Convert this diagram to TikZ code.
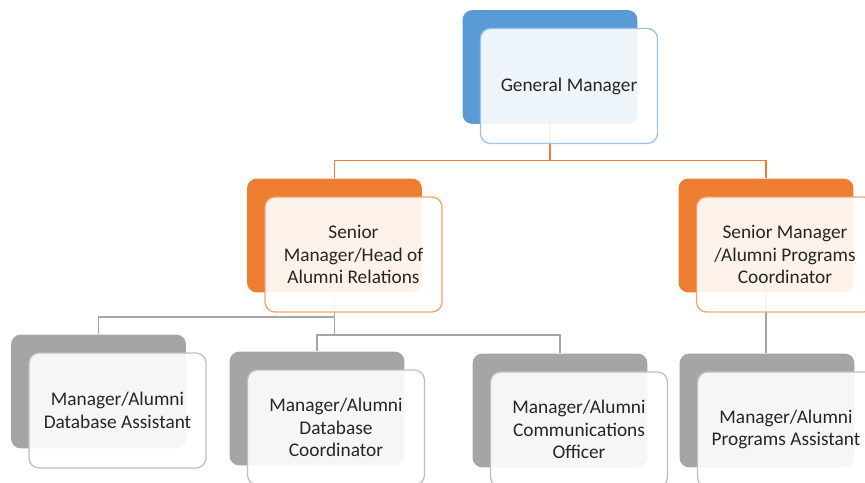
\documentclass[tikz,border=0pt]{standalone}
\usepackage{fontspec}
\setmainfont{Carlito}
\usepackage{tikz}
\usepackage{xcolor}

\definecolor{gmblue}{HTML}{5B9BD5}
\definecolor{gmedge}{HTML}{9DC3E6}
\definecolor{smorange}{HTML}{ED7D31}
\definecolor{smedge}{HTML}{F4A36F}
\definecolor{mgray}{HTML}{A5A5A5}
\definecolor{medge}{HTML}{BFBFBF}
\definecolor{boxtext}{HTML}{262626}

\begin{document}
\begin{tikzpicture}[x=0.02cm,y=-0.02cm,
	backbox/.style={rounded corners=0.2cm, minimum width=3.5cm, minimum height=2.28cm, inner sep=0pt},
	frontbox/.style={draw, line width=0.75pt, rounded corners=0.2cm, fill=white, fill opacity=0.9, text opacity=1,
		minimum width=3.54cm, minimum height=2.3cm, inner sep=0pt, xshift=0.38cm, yshift=-0.38cm,
		align=center, text=boxtext, font=\fontsize{11}{12.8}\selectfont},
	orangeline/.style={draw=smorange, line width=0.85pt},
	grayline/.style={draw=mgray, line width=0.85pt}]
	\clip (0,0) rectangle (865,483);
	\node[backbox, fill=gmblue] (gmb) at (550,67) {};
	\node[backbox, fill=smorange] (smhb) at (334.5,235.5) {};
	\node[backbox, fill=smorange] (smpb) at (766,235.5) {};
	\node[backbox, fill=mgray] (c1b) at (98.5,391.5) {};
	\node[backbox, fill=mgray] (c2b) at (317,408.5) {};
	\node[backbox, fill=mgray] (c3b) at (560,410.5) {};
	\node[backbox, fill=mgray] (c4b) at (767,410.5) {};
	\draw[orangeline] (gmb.south) -- ++(0,36) coordinate (gmbus);
	\draw[orangeline] (gmbus) -| (smhb.north);
	\draw[orangeline] (gmbus) -| (smpb.north);
	\draw[grayline] (smhb.south) -- ++(0,24) -| (c1b.north);
	\draw[grayline] (smhb.south) -- ++(0,42) coordinate (smhbus);
	\draw[grayline] (smhbus) -| (c2b.north);
	\draw[grayline] (smhbus) -| (c3b.north);
	\draw[grayline] (smpb.south) -- (smpb.south |- c4b.north);
	\node[frontbox, draw=gmedge] (gm) at (gmb) {General Manager};
	\node[frontbox, draw=smedge] (smh) at (smhb) {Senior\\Manager/Head of\\Alumni Relations};
	\node[frontbox, draw=smedge] (smp) at (smpb) {Senior Manager\\/Alumni Programs\\Coordinator};
	\node[frontbox, draw=medge] (c1) at (c1b) {Manager/Alumni\\Database Assistant};
	\node[frontbox, draw=medge] (c2) at (c2b) {Manager/Alumni\\Database\\Coordinator};
	\node[frontbox, draw=medge] (c3) at (c3b) {Manager/Alumni\\Communications\\Officer};
	\node[frontbox, draw=medge] (c4) at (c4b) {Manager/Alumni\\Programs Assistant};
\end{tikzpicture}
\end{document}
